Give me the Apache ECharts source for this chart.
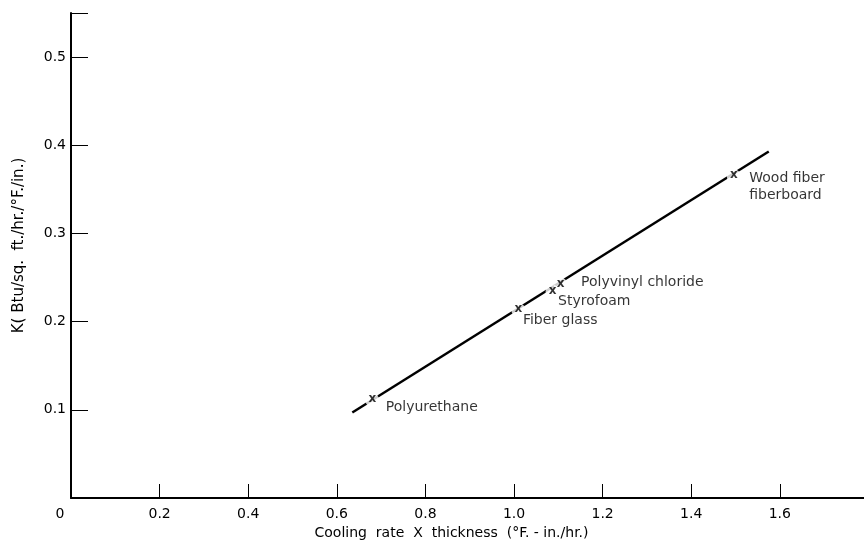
<!DOCTYPE html>
<html>
<head>
<meta charset="utf-8">
<script src="https://cdn.jsdelivr.net/npm/echarts@6/dist/echarts.min.js"></script>
<style>
html,body{margin:0;padding:0;background:#fff;}
#main{width:864px;height:550px;}
</style>
</head>
<body>
<div id="main"></div>
<script>
// 拟合直线两端点 (冷却速率 x 厚度, K)
var fitLine = [[0.635, 0.097], [1.575, 0.393]];
// 各材料测点
var materials = ['Polyurethane', 'Fiber glass', 'Styrofoam', 'Polyvinyl chloride', 'Wood fiber\nfiberboard'];
var coolRate  = [0.680, 1.010, 1.087, 1.105, 1.496];
var kValues   = [0.111, 0.213, 0.234, 0.242, 0.365];
// 标签相对测点的偏移
var labelOffsets = [[13, 7], [4, 10], [5, 10], [20, -2], [15, 11]];

var xTicks = [0.2, 0.4, 0.6, 0.8, 1.0, 1.2, 1.4, 1.6];
var yTicks = [0.1, 0.2, 0.3, 0.4, 0.5];

var FONT = 'DejaVu Sans';
var chart = echarts.init(document.getElementById('main'));

var markerData = [], nameData = [];
for (var i = 0; i < materials.length; ++i) {
	markerData.push([coolRate[i], kValues[i]]);
	nameData.push({
		value: [coolRate[i], kValues[i]],
		name: materials[i],
		label: {offset: labelOffsets[i]}
	});
}

var option = {
	animation: false,
	grid: {left: 71, right: 0, top: 13, bottom: 52},
	xAxis: {
		type: 'value', min: 0, max: 1.79, interval: 0.2,
		name: 'Cooling  rate  X  thickness  (°F. - in./hr.)',
		nameLocation: 'middle', nameGap: 27,
		nameTextStyle: {fontFamily: FONT, fontSize: 14, color: '#000', padding: [0, 32, 0, 0]},
		splitLine: {show: false},
		axisLine: {lineStyle: {color: '#000', width: 2}},
		axisTick: {inside: true, length: 14, lineStyle: {color: '#000', width: 1}, customValues: xTicks},
		axisLabel: {
			fontFamily: FONT, fontSize: 14, color: '#000', margin: 9,
			customValues: [0].concat(xTicks),
			formatter: function (v) {
				if (v === 0) return '{z|0}';
				return v.toFixed(1);
			},
			rich: {z: {fontFamily: FONT, fontSize: 14, color: '#000', padding: [0, 22, 0, 0]}}
		}
	},
	yAxis: {
		type: 'value', min: 0, max: 0.55, interval: 0.1,
		name: 'K( Btu/sq.  ft./hr./°F./in.)',
		nameLocation: 'middle', nameGap: 44,
		nameTextStyle: {fontFamily: FONT, fontSize: 15, color: '#000', padding: [0, 0, 0, 20]},
		splitLine: {show: false},
		axisLine: {lineStyle: {color: '#000', width: 2}},
		axisTick: {inside: true, length: 17, lineStyle: {color: '#000', width: 1}, customValues: yTicks.concat([0.55])},
		axisLabel: {
			fontFamily: FONT, fontSize: 14, color: '#000', margin: 5,
			customValues: yTicks,
			formatter: function (v) { return v.toFixed(1); }
		}
	},
	series: [
		{
			type: 'line', data: fitLine, symbol: 'none', z: 2,
			lineStyle: {color: '#000', width: 2.5}
		},
		{
			// 测点: 白底遮断直线, 上面画 x
			type: 'scatter', data: markerData, z: 3,
			symbol: 'circle', symbolSize: 14,
			itemStyle: {color: '#fff'},
			label: {
				show: true, position: 'inside', formatter: 'x',
				fontFamily: FONT, fontSize: 12, fontWeight: 'bold', color: '#000', offset: [0, -1]
			}
		},
		{
			type: 'scatter', data: nameData, z: 4,
			symbolSize: 1,
			itemStyle: {color: 'rgba(0,0,0,0)'},
			label: {
				show: true, position: 'right', distance: 0,
				formatter: '{b}', align: 'left', lineHeight: 17,
				fontFamily: FONT, fontSize: 14, color: '#000'
			}
		}
	]
};
chart.setOption(option);
</script>
</body>
</html>
